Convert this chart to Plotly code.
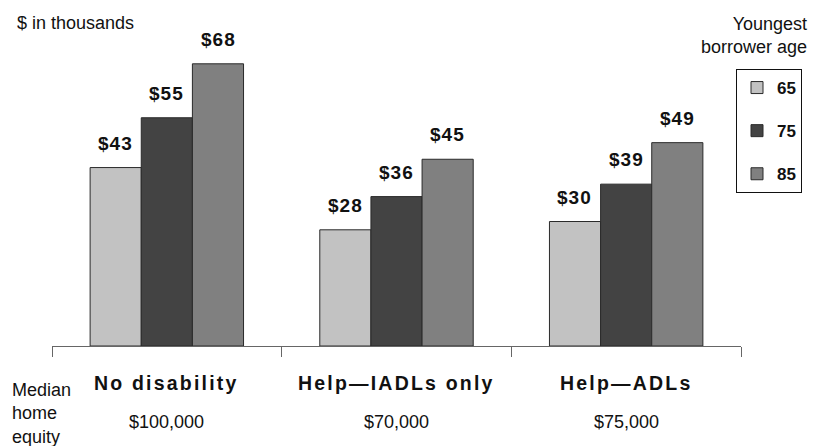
import plotly.graph_objects as go

categories = ["No disability", "Help\u2014IADLs only", "Help\u2014ADLs"]
equity_labels = ["$100,000", "$70,000", "$75,000"]
ages = ["65", "75", "85"]
values_65 = [43, 28, 30]
values_75 = [55, 36, 39]
values_85 = [68, 45, 49]
series_values = [values_65, values_75, values_85]
colors = ["#c2c2c2", "#434343", "#808080"]

FONT = "Liberation Sans, Arial, sans-serif"
bargap = 0.332
W, H = 814, 446
ml, mr, mt, mb = 52, 71, 14, 100
PW = W - ml - mr
PH = H - mt - mb
AXIS_Y = H - mb
cat_px = PW / len(categories)
bar_px = cat_px * (1 - bargap) / len(ages)


def px_y(y):
    return (AXIS_Y - y) / PH


def px_x(x):
    return (x - ml) / PW


fig = go.Figure()
for i, (age, vals, col) in enumerate(zip(ages, series_values, colors)):
    fig.add_trace(go.Bar(
        x=categories, y=vals, name=age, legendgroup=age,
        marker=dict(color=col, line=dict(color="#2a2a2a", width=1)),
        hoverinfo="skip",
    ))

annotations = []
for i, vals in enumerate(series_values):
    shift = (i - (len(ages) - 1) / 2) * bar_px
    for cat, v in zip(categories, vals):
        annotations.append(dict(
            x=cat, y=v, xref="x", yref="y",
            text=f'<span style="letter-spacing:1px"><b>${v}</b></span>',
            showarrow=False, xanchor="center", yanchor="bottom",
            xshift=shift, yshift=12,
            font=dict(family=FONT, size=19, color="#111"),
        ))

for cat, eq in zip(categories, equity_labels):
    annotations.append(dict(
        x=cat, y=px_y(383), xref="x", yref="paper",
        text=f'<span style="letter-spacing:2.2px"><b>{cat}</b></span>',
        showarrow=False, xanchor="center", yanchor="middle",
        font=dict(family=FONT, size=19.5, color="#111"),
    ))
    annotations.append(dict(
        x=cat, y=px_y(422), xref="x", yref="paper", text=eq,
        showarrow=False, xanchor="center", yanchor="middle",
        font=dict(family=FONT, size=18, color="#111"),
    ))

annotations.append(dict(
    x=px_x(10), y=px_y(378), xref="paper", yref="paper",
    text="Median<br>home<br>equity", showarrow=False, align="left",
    xanchor="left", yanchor="top",
    font=dict(family=FONT, size=18, color="#111"),
))
annotations.append(dict(
    x=px_x(15), y=px_y(23), xref="paper", yref="paper",
    text="$ in thousands", showarrow=False, align="left",
    xanchor="left", yanchor="middle",
    font=dict(family=FONT, size=18, color="#111"),
))
annotations.append(dict(
    x=px_x(811), y=px_y(35), xref="paper", yref="paper",
    text="Youngest<br>borrower age", showarrow=False, align="right",
    xanchor="right", yanchor="middle",
    font=dict(family=FONT, size=18, color="#111"),
))

fig.update_layout(
    width=W, height=H,
    margin=dict(l=ml, r=mr, t=mt, b=mb),
    paper_bgcolor="white", plot_bgcolor="white",
    barmode="group", bargap=bargap, bargroupgap=0,
    font=dict(family=FONT, size=14, color="#111"),
    showlegend=True,
    legend=dict(
        x=px_x(738), y=px_y(69),
        xanchor="left", yanchor="top",
        bordercolor="#111", borderwidth=1, bgcolor="white",
        font=dict(family=FONT, size=17, color="#111", weight="bold"),
        tracegroupgap=18, itemwidth=30,
    ),
    annotations=annotations,
    xaxis=dict(
        showline=True, linecolor="#666", linewidth=1,
        ticks="outside", tickson="boundaries", ticklen=10, tickcolor="#666",
        showticklabels=False, showgrid=False, zeroline=False,
        range=[-0.5, 2.5], fixedrange=True,
    ),
    yaxis=dict(
        range=[0, 80], visible=False, showgrid=False, zeroline=False,
    ),
)

fig.write_html("out.html")
